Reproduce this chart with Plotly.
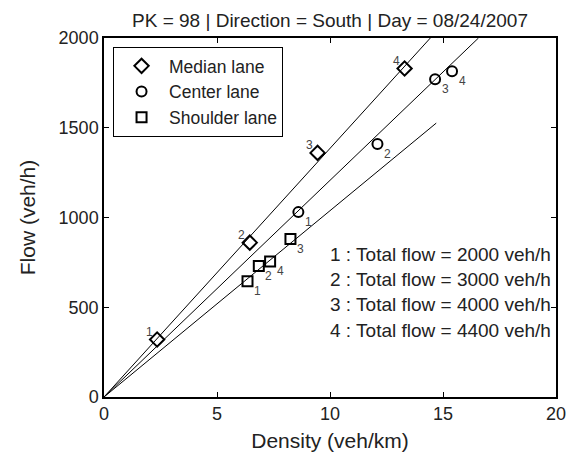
import plotly.graph_objects as go

title = "PK = 98 | Direction = South | Day = 08/24/2007"
lanes = ["Median lane", "Center lane", "Shoulder lane"]
symbols = ["diamond-open", "circle-open", "square-open"]
marker_sizes = [11, 10, 10]

median_density = [2.35, 6.45, 9.45, 13.3]
median_flow = [320, 860, 1360, 1830]
center_density = [8.6, 12.1, 14.65, 15.4]
center_flow = [1030, 1410, 1770, 1815]
shoulder_density = [6.35, 6.85, 8.25, 7.35]
shoulder_flow = [645, 730, 880, 755]
point_ids = ["1", "2", "3", "4"]

fit_slopes = [138.5, 120.7, 103.8]
fit_xmax = [14.44, 16.57, 14.7]

total_flows = [2000, 3000, 4000, 4400]

x_ticks = [0, 5, 10, 15, 20]
y_ticks = [0, 500, 1000, 1500, 2000]

densities = [median_density, center_density, shoulder_density]
flows = [median_flow, center_flow, shoulder_flow]
label_shift = [(-8, 8), (10, -10), (10, -10)]

fig = go.Figure()
for i in range(3):
    fig.add_trace(go.Scatter(
        x=densities[i], y=flows[i], mode="markers", name=lanes[i],
        marker=dict(symbol=symbols[i], size=marker_sizes[i], color="black",
                    line=dict(width=2, color="black")),
    ))
for i in range(3):
    fig.add_trace(go.Scatter(
        x=[0, fit_xmax[i]], y=[0, fit_slopes[i] * fit_xmax[i]], mode="lines",
        line=dict(color="black", width=1), showlegend=False, hoverinfo="skip",
    ))

for i in range(3):
    dx, dy = label_shift[i]
    for xv, yv, t in zip(densities[i], flows[i], point_ids):
        fig.add_annotation(x=xv, y=yv, text=t, showarrow=False, xshift=dx, yshift=dy,
                           font=dict(size=12, color="#444444"))

for k, (pid, tf) in enumerate(zip(point_ids, total_flows)):
    fig.add_annotation(xref="paper", yref="paper", x=0.993, y=0.398 - k * 0.0705,
                       xanchor="right", yanchor="middle", showarrow=False,
                       text=f"{pid} : Total flow = {tf} veh/h",
                       font=dict(size=19, color="#222222"))

axis_common = dict(showline=True, linecolor="black", linewidth=1.5, mirror="ticks",
                   ticks="inside", ticklen=5, tickcolor="black", showgrid=False,
                   zeroline=False, automargin=False, tickfont=dict(size=18, color="#222222"))

fig.update_layout(
    width=567, height=459,
    margin=dict(l=104, r=11, t=38, b=62),
    paper_bgcolor="white", plot_bgcolor="white",
    font=dict(family="Liberation Sans, Arial, sans-serif", color="#222222"),
    title=dict(text=title, x=0.5, xref="paper", xanchor="center", y=0.956, yanchor="middle",
               font=dict(size=19, color="#222222")),
    xaxis=dict(range=[0, 20], tickvals=x_ticks,
               title=dict(text="Density (veh/km)", font=dict(size=21), standoff=10), **axis_common),
    yaxis=dict(range=[0, 2000], tickvals=y_ticks,
               title=dict(text="Flow (veh/h)", font=dict(size=21), standoff=17), **axis_common),
    legend=dict(x=0.02, y=0.975, xanchor="left", yanchor="top", bordercolor="black", borderwidth=1,
                bgcolor="white", itemwidth=45, font=dict(size=17.5, color="#222222")),
    showlegend=True,
)

fig.write_html("out.html", config={"displayModeBar": False},
               post_script="document.body.style.margin='0';document.body.style.overflow='hidden';")
